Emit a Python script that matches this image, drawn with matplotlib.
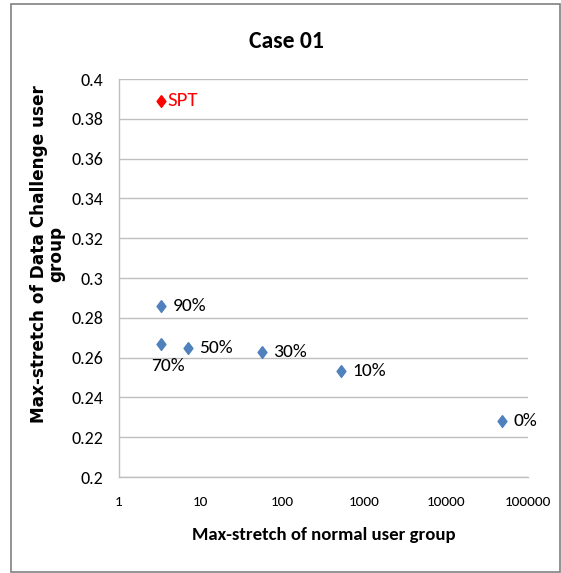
import matplotlib.pyplot as plt
from matplotlib.patches import Rectangle
from matplotlib.ticker import FixedLocator, FixedFormatter

# values
labels = ["SPT", "90%", "70%", "50%", "30%", "10%", "0%"]
normal_stretch = [3.3, 3.3, 3.3, 7.0, 56, 517, 48000]
dc_stretch = [0.389, 0.286, 0.267, 0.265, 0.263, 0.2533, 0.228]
colors = ["#FF0000", "#4F81BD", "#4F81BD", "#4F81BD", "#4F81BD", "#4F81BD", "#4F81BD"]
label_colors = ["#FF0000", "black", "black", "black", "black", "black", "black"]

x_ticks = [1, 10, 100, 1000, 10000, 100000]
x_ticklabels = ["1", "10", "100", "1000", "10000", "100000"]
y_ticks = [0.2, 0.22, 0.24, 0.26, 0.28, 0.3, 0.32, 0.34, 0.36, 0.38, 0.4]
y_ticklabels = ["0.2", "0.22", "0.24", "0.26", "0.28", "0.3", "0.32", "0.34", "0.36", "0.38", "0.4"]

calibri = ["Carlito", "DejaVu Sans"]
diamond = [(0, 1), (0.75, 0), (0, -1), (-0.75, 0), (0, 1)]

fig = plt.figure(figsize=(5.61, 5.73), dpi=100)
ax = fig.add_axes([0.2121, 0.1675, 0.7291, 0.6946])

for x, y, c in zip(normal_stretch, dc_stretch, colors):
    ax.plot(x, y, marker=diamond, color=c, markersize=8.5, linestyle="none")

# label offsets in points (70% sits below the marker)
for x, y, lab, lc in zip(normal_stretch, dc_stretch, labels, label_colors):
    if lab == "70%":
        ax.annotate(lab, (x, y), xytext=(5, -16), textcoords="offset points",
                    ha="center", va="center", fontsize=14, color=lc, family=calibri)
    elif lab == "SPT":
        ax.annotate(lab, (x, y), xytext=(4, 0), textcoords="offset points",
                    ha="left", va="center", fontsize=15, color=lc, family=calibri)
    else:
        ax.annotate(lab, (x, y), xytext=(8, 0), textcoords="offset points",
                    ha="left", va="center", fontsize=14, color=lc, family=calibri)

ax.set_xscale("log")
ax.set_xlim(1, 100000)
ax.set_ylim(0.2, 0.4)
ax.xaxis.set_major_locator(FixedLocator(x_ticks))
ax.xaxis.set_major_formatter(FixedFormatter(x_ticklabels))
ax.xaxis.set_minor_locator(FixedLocator([]))
ax.yaxis.set_major_locator(FixedLocator(y_ticks))
ax.yaxis.set_major_formatter(FixedFormatter(y_ticklabels))

ax.grid(axis="y", color="#BFBFBF", linewidth=1)
ax.set_axisbelow(True)
for s in ["top", "right"]:
    ax.spines[s].set_visible(False)
for s in ["left", "bottom"]:
    ax.spines[s].set_color("#BFBFBF")
    ax.spines[s].set_linewidth(1)
ax.tick_params(axis="y", length=0, pad=11, labelsize=13)
ax.tick_params(axis="x", length=0, pad=14, labelsize=11)
for t in ax.get_xticklabels() + ax.get_yticklabels():
    t.set_family(calibri)

ax.set_xlabel("Max-stretch of normal user group", fontsize=13.5, fontweight="bold",
              family=calibri, labelpad=13)
ax.set_ylabel("Max-stretch of Data Challenge user\ngroup", fontsize=12.2,
              fontweight="bold", family="DejaVu Sans", linespacing=0.95)
ax.yaxis.set_label_coords(-0.132, 0.561)
fig.text(0.51, 0.928, "Case 01", ha="center", va="center", fontsize=17,
         fontweight="bold", family=calibri)

fig.patches.append(Rectangle((11 / 561, 1 / 573), 549 / 561, 568 / 573,
                             transform=fig.transFigure, fill=False,
                             edgecolor="#808080", linewidth=1.2))

fig.savefig("out.png", dpi=100)
